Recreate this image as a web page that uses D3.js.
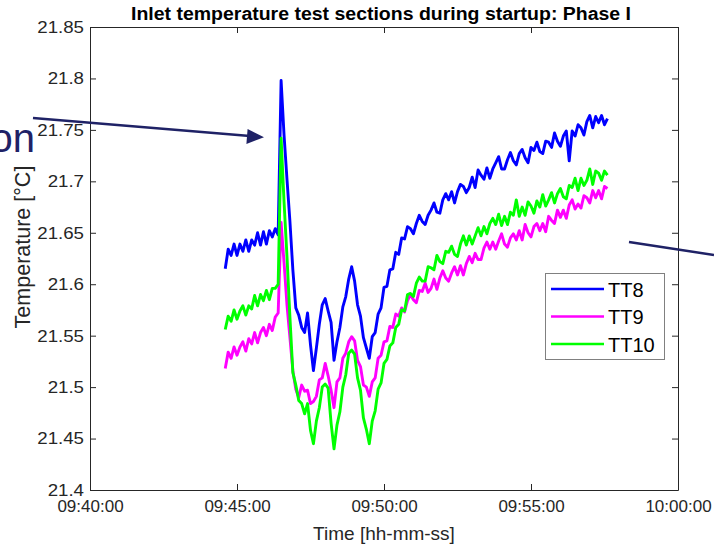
<!DOCTYPE html>
<html>
<head>
<meta charset="utf-8">
<script src="https://cdn.jsdelivr.net/npm/d3@7"></script>
<style>
  body { margin: 0; background: #fff; }
  svg { display: block; font-family: 'Liberation Sans', Arial, sans-serif; }
</style>
</head>
<body>
<script>
// sample times (every 6 s)
const times = [
  '09:44:36','09:44:42','09:44:48','09:44:54','09:45:00','09:45:06','09:45:12','09:45:18','09:45:24','09:45:30',
  '09:45:36','09:45:42','09:45:48','09:45:54','09:46:00','09:46:06','09:46:12','09:46:18','09:46:24','09:46:30',
  '09:46:36','09:46:42','09:46:48','09:46:54','09:47:00','09:47:06','09:47:12','09:47:18','09:47:24','09:47:30',
  '09:47:36','09:47:42','09:47:48','09:47:54','09:48:00','09:48:06','09:48:12','09:48:18','09:48:24','09:48:30',
  '09:48:36','09:48:42','09:48:48','09:48:54','09:49:00','09:49:06','09:49:12','09:49:18','09:49:24','09:49:30',
  '09:49:36','09:49:42','09:49:48','09:49:54','09:50:00','09:50:06','09:50:12','09:50:18','09:50:24','09:50:30',
  '09:50:36','09:50:42','09:50:48','09:50:54','09:51:00','09:51:06','09:51:12','09:51:18','09:51:24','09:51:30',
  '09:51:36','09:51:42','09:51:48','09:51:54','09:52:00','09:52:06','09:52:12','09:52:18','09:52:24','09:52:30',
  '09:52:36','09:52:42','09:52:48','09:52:54','09:53:00','09:53:06','09:53:12','09:53:18','09:53:24','09:53:30',
  '09:53:36','09:53:42','09:53:48','09:53:54','09:54:00','09:54:06','09:54:12','09:54:18','09:54:24','09:54:30',
  '09:54:36','09:54:42','09:54:48','09:54:54','09:55:00','09:55:06','09:55:12','09:55:18','09:55:24','09:55:30',
  '09:55:36','09:55:42','09:55:48','09:55:54','09:56:00','09:56:06','09:56:12','09:56:18','09:56:24','09:56:30',
  '09:56:36','09:56:42','09:56:48','09:56:54','09:57:00','09:57:06','09:57:12','09:57:18','09:57:24','09:57:30',
  '09:57:36'
];

const tt8 = [
  21.615, 21.634, 21.628, 21.639, 21.628, 21.639, 21.632, 21.643, 21.632, 21.643,
  21.638, 21.650, 21.638, 21.651, 21.639, 21.652, 21.646, 21.654, 21.648, 21.798,
  21.745, 21.702, 21.661, 21.614, 21.577, 21.570, 21.558, 21.553, 21.572, 21.541,
  21.516, 21.538, 21.561, 21.580, 21.586, 21.574, 21.563, 21.526, 21.544, 21.558,
  21.578, 21.588, 21.605, 21.617, 21.603, 21.580, 21.569, 21.548, 21.538, 21.528,
  21.549, 21.553, 21.571, 21.577, 21.597, 21.598, 21.614, 21.615, 21.631, 21.629,
  21.645, 21.644, 21.656, 21.654, 21.649, 21.659, 21.667, 21.661, 21.658, 21.667,
  21.672, 21.679, 21.670, 21.669, 21.682, 21.688, 21.682, 21.690, 21.679, 21.690,
  21.697, 21.695, 21.689, 21.694, 21.704, 21.694, 21.711, 21.706, 21.702, 21.713,
  21.703, 21.712, 21.718, 21.724, 21.712, 21.712, 21.721, 21.728, 21.720, 21.716,
  21.727, 21.731, 21.723, 21.718, 21.733, 21.730, 21.738, 21.729, 21.727, 21.739,
  21.738, 21.733, 21.747, 21.739, 21.734, 21.744, 21.749, 21.720, 21.749, 21.744,
  21.755, 21.752, 21.745, 21.758, 21.764, 21.752, 21.763, 21.757, 21.764, 21.755,
  21.761
];

const tt9 = [
  21.518, 21.534, 21.528, 21.539, 21.531, 21.539, 21.544, 21.535, 21.547, 21.542,
  21.553, 21.543, 21.553, 21.558, 21.550, 21.561, 21.555, 21.568, 21.572, 21.660,
  21.621, 21.580, 21.548, 21.516, 21.498, 21.490, 21.502, 21.496, 21.497, 21.484,
  21.486, 21.491, 21.507, 21.509, 21.523, 21.511, 21.497, 21.480, 21.505, 21.509,
  21.528, 21.533, 21.544, 21.549, 21.545, 21.526, 21.520, 21.502, 21.500, 21.491,
  21.505, 21.509, 21.528, 21.531, 21.544, 21.545, 21.559, 21.558, 21.571, 21.569,
  21.577, 21.573, 21.584, 21.590, 21.585, 21.582, 21.594, 21.593, 21.601, 21.592,
  21.596, 21.605, 21.595, 21.606, 21.613, 21.606, 21.603, 21.611, 21.617, 21.609,
  21.618, 21.609, 21.620, 21.627, 21.621, 21.630, 21.624, 21.624, 21.635, 21.641,
  21.634, 21.641, 21.634, 21.642, 21.649, 21.639, 21.636, 21.645, 21.649, 21.643,
  21.652, 21.643, 21.658, 21.650, 21.646, 21.656, 21.659, 21.652, 21.659, 21.651,
  21.666, 21.662, 21.659, 21.672, 21.665, 21.672, 21.664, 21.677, 21.682, 21.673,
  21.678, 21.674, 21.686, 21.684, 21.679, 21.691, 21.684, 21.691, 21.683, 21.695,
  21.693
];

const tt10 = [
  21.556, 21.569, 21.564, 21.575, 21.566, 21.574, 21.579, 21.570, 21.579, 21.576,
  21.589, 21.579, 21.590, 21.584, 21.594, 21.585, 21.596, 21.596, 21.600, 21.742,
  21.680, 21.627, 21.568, 21.514, 21.502, 21.487, 21.484, 21.474, 21.484, 21.458,
  21.445, 21.467, 21.480, 21.500, 21.503, 21.499, 21.465, 21.440, 21.463, 21.476,
  21.500, 21.512, 21.533, 21.536, 21.532, 21.509, 21.497, 21.470, 21.459, 21.445,
  21.467, 21.477, 21.498, 21.504, 21.523, 21.527, 21.540, 21.543, 21.558, 21.561,
  21.575, 21.574, 21.590, 21.591, 21.588, 21.601, 21.607, 21.603, 21.603, 21.617,
  21.616, 21.614, 21.628, 21.622, 21.620, 21.632, 21.631, 21.637, 21.629, 21.627,
  21.639, 21.647, 21.638, 21.647, 21.639, 21.647, 21.655, 21.647, 21.656, 21.649,
  21.659, 21.664, 21.658, 21.668, 21.657, 21.666, 21.658, 21.670, 21.667, 21.682,
  21.666, 21.675, 21.667, 21.680, 21.676, 21.669, 21.681, 21.675, 21.687, 21.676,
  21.682, 21.689, 21.679, 21.688, 21.693, 21.685, 21.683, 21.696, 21.694, 21.703,
  21.691, 21.703, 21.696, 21.701, 21.712, 21.697, 21.710, 21.708, 21.701, 21.710,
  21.706
];

const seriesNames = ['TT8', 'TT9', 'TT10'];
const seriesColors = ['#0000ff', '#ff00ff', '#00ff00'];
const xTicks = ['09:40:00', '09:45:00', '09:50:00', '09:55:00', '10:00:00'];
const yTicks = [21.4, 21.45, 21.5, 21.55, 21.6, 21.65, 21.7, 21.75, 21.8, 21.85];
const yTickLabels = ['21.4', '21.45', '21.5', '21.55', '21.6', '21.65', '21.7', '21.75', '21.8', '21.85'];

const svgWidth = 714, svgHeight = 546;
const margins = { top: 27, right: 36, bottom: 56, left: 90 };
const innerW = svgWidth - margins.left - margins.right;
const innerH = svgHeight - margins.top - margins.bottom;
const axisColor = '#262626';
const navy = '#1f2266';
const yLabelStretch = 1.1;

const parseTime = d3.timeParse('%H:%M:%S');

const svg = d3.select('body')
  .append('svg')
  .attr('width', svgWidth)
  .attr('height', svgHeight);

const x = d3.scaleTime()
  .domain([parseTime(xTicks[0]), parseTime(xTicks[xTicks.length - 1])])
  .range([0, innerW]);

const y = d3.scaleLinear()
  .domain([yTicks[0], yTicks[yTicks.length - 1]])
  .range([innerH, 0]);

const g = svg.append('g')
  .attr('transform', `translate(${margins.left}, ${margins.top})`);

// axes (box with inward ticks, MATLAB style)
const xTickDates = xTicks.map(parseTime);

g.append('g')
  .attr('transform', `translate(0, ${innerH})`)
  .call(d3.axisBottom(x).tickValues(xTickDates).tickSizeInner(-6).tickSizeOuter(0)
    .tickPadding(10).tickFormat((d, i) => xTicks[i]));

g.append('g')
  .call(d3.axisTop(x).tickValues(xTickDates).tickSizeInner(-6).tickSizeOuter(0).tickFormat(''));

const yAxisG = g.append('g')
  .call(d3.axisLeft(y).tickValues(yTicks).tickSizeInner(-6).tickSizeOuter(0)
    .tickFormat((d, i) => yTickLabels[i]));

g.append('g')
  .attr('transform', `translate(${innerW}, 0)`)
  .call(d3.axisRight(y).tickValues(yTicks).tickSizeInner(-6).tickSizeOuter(0).tickFormat(''));

g.selectAll('.domain, .tick line').attr('stroke', axisColor);
g.selectAll('.tick text')
  .attr('fill', axisColor)
  .attr('font-size', 17)
  .attr('font-family', "'Liberation Sans', Arial, sans-serif");

// the y tick labels are drawn a little wider in the original
yAxisG.selectAll('.tick text')
  .attr('x', -6 / yLabelStretch)
  .attr('transform', `scale(${yLabelStretch}, 1)`);

// lines
const allSeries = [tt8, tt9, tt10].map((vals, i) => ({
  name: seriesNames[i],
  color: seriesColors[i],
  values: vals.map((v, j) => ({ t: parseTime(times[j]), v: v }))
}));

const line = d3.line()
  .x(d => x(d.t))
  .y(d => y(d.v));

g.selectAll('.series')
  .data(allSeries)
  .enter()
  .append('path')
  .attr('class', 'series')
  .attr('fill', 'none')
  .attr('stroke', d => d.color)
  .attr('stroke-width', 2.9)
  .attr('stroke-linejoin', 'round')
  .attr('d', d => line(d.values));

// legend
const legend = g.append('g')
  .attr('transform', `translate(${545 - margins.left}, ${273 - margins.top})`);

legend.append('rect')
  .attr('x', 0.5)
  .attr('y', 0.5)
  .attr('width', 119)
  .attr('height', 86)
  .attr('fill', '#fff')
  .attr('stroke', '#808080');

const item = legend.selectAll('.item')
  .data(allSeries)
  .enter()
  .append('g')
  .attr('transform', (d, i) => `translate(0, ${16 + i * 27.5})`);

item.append('line')
  .attr('x1', 6).attr('x2', 59)
  .attr('stroke', d => d.color)
  .attr('stroke-width', 2.6);

item.append('text')
  .attr('x', 63)
  .attr('y', 7.5)
  .attr('font-size', 20)
  .attr('fill', '#000')
  .text(d => d.name);

// titles
svg.append('text')
  .attr('x', 381)
  .attr('y', 20)
  .attr('text-anchor', 'middle')
  .attr('font-size', 18)
  .attr('font-weight', 'bold')
  .attr('textLength', 500)
  .attr('lengthAdjust', 'spacingAndGlyphs')
  .attr('fill', '#000')
  .text('Inlet temperature test sections during startup: Phase I');

svg.append('text')
  .attr('x', margins.left + innerW / 2)
  .attr('y', 540)
  .attr('text-anchor', 'middle')
  .attr('font-size', 19)
  .attr('fill', axisColor)
  .text('Time [hh-mm-ss]');

svg.append('text')
  .attr('transform', 'translate(30, 247) rotate(-90)')
  .attr('text-anchor', 'middle')
  .attr('font-size', 21.5)
  .attr('fill', axisColor)
  .text('Temperature [°C]');

// slide annotations around the chart
svg.append('text')
  .attr('x', 35)
  .attr('y', 152)
  .attr('text-anchor', 'end')
  .attr('font-size', 40)
  .attr('fill', navy)
  .text('on');

svg.append('line')
  .attr('x1', 33).attr('y1', 118)
  .attr('x2', 250).attr('y2', 136)
  .attr('stroke', navy)
  .attr('stroke-width', 2.5);

svg.append('path')
  .attr('d', 'M264,137.2 L247.6,129 L246.4,144 Z')
  .attr('fill', navy);

svg.append('line')
  .attr('x1', 629).attr('y1', 242)
  .attr('x2', 714).attr('y2', 255)
  .attr('stroke', navy)
  .attr('stroke-width', 2.5);
</script>
</body>
</html>
